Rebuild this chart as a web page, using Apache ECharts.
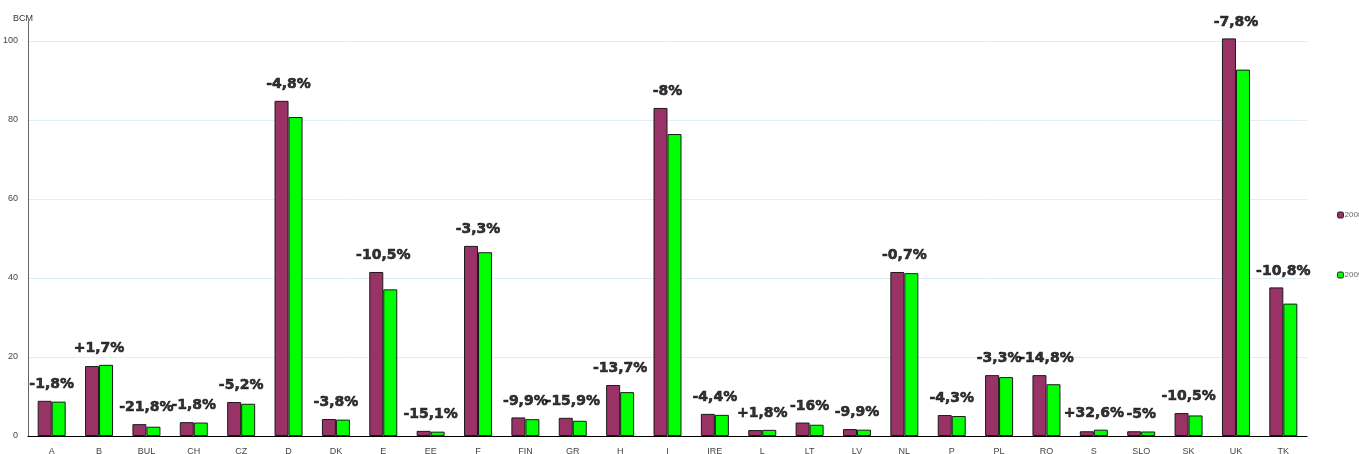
<!DOCTYPE html>
<html>
<head>
<meta charset="utf-8">
<script src="https://cdn.jsdelivr.net/npm/echarts@6/dist/echarts.min.js"></script>
<style>
html,body{margin:0;padding:0;background:#fff;}
#chart{width:1359px;height:454px;}
</style>
</head>
<body>
<div id="chart"></div>
<script>
const categories = ['A','B','BUL','CH','CZ','D','DK','E','EE','F','FIN','GR','H','I','IRE','L','LT','LV','NL','P','PL','RO','S','SLO','SK','UK','TK'];
const values2008 = [8.9,17.7,3.0,3.5,8.6,84.8,4.3,41.5,1.3,48.1,4.7,4.6,12.9,83.0,5.6,1.5,3.4,1.75,41.5,5.3,15.4,15.4,1.2,1.2,5.8,100.6,37.6];
const values2009 = [8.7,18.0,2.35,3.4,8.15,80.7,4.15,37.1,1.1,46.5,4.25,3.85,11.1,76.4,5.35,1.55,2.85,1.6,41.2,5.05,14.9,13.1,1.6,1.14,5.2,92.7,33.5];
const changeLabels = ['-1,8%','+1,7%','-21,8%','-1,8%','-5,2%','-4,8%','-3,8%','-10,5%','-15,1%','-3,3%','-9,9%','-15,9%','-13,7%','-8%','-4,4%','+1,8%','-16%','-9,9%','-0,7%','-4,3%','-3,3%','-14,8%','+32,6%','-5%','-10,5%','-7,8%','-10,8%'];
const yTicks = [0,20,40,60,80,100];

const labelAnchor = categories.map((c,i) => Math.max(values2008[i], values2009[i]));

const chart = echarts.init(document.getElementById('chart'));
chart.setOption({
  animation: false,
  grid: {left: 28, right: 52, top: 21, bottom: 18, containLabel: false, outerBoundsMode: 'none'},
  legend: {
    orient: 'vertical',
    left: 1332,
    top: 206,
    itemGap: 52,
    itemWidth: 6,
    itemHeight: 6,
    data: [
      {name: '2008', itemStyle: {borderColor: '#222', borderWidth: 1}},
      {name: '2009', itemStyle: {borderColor: '#222', borderWidth: 1}}
    ],
    textStyle: {fontSize: 8, color: '#666', fontFamily: 'Liberation Sans', padding: [0,0,0,-4]}
  },
  xAxis: {
    type: 'category',
    data: categories,
    axisLine: {lineStyle: {color: '#000', width: 1}},
    axisTick: {show: false},
    axisLabel: {fontSize: 9, color: '#444', fontFamily: 'Liberation Sans', margin: 11}
  },
  yAxis: {
    type: 'value',
    min: 0, max: 105, interval: 20,
    name: 'BCM',
    nameLocation: 'end',
    nameGap: -2,
    nameTextStyle: {fontSize: 9, color: '#333', fontFamily: 'Liberation Sans', padding: [0, 10, 0, 0]},
    axisLine: {show: true, lineStyle: {color: '#666', width: 1}},
    axisTick: {show: false},
    axisLabel: {
      fontSize: 9, color: '#444', fontFamily: 'Liberation Sans', margin: 10,
      formatter: v => yTicks.indexOf(v) >= 0 ? String(v) : ''
    },
    splitLine: {lineStyle: {color: ['#dfeef6','#dfeef6','#dfeef6','#dfeef6','#dfeef6','#dfeef6','rgba(0,0,0,0)'], width: 1}}
  },
  series: [
    {
      name: '2008', type: 'bar', data: values2008,
      barWidth: 14, barGap: '0%',
      itemStyle: {color: '#993366', borderColor: '#1a1a1a', borderWidth: 1}
    },
    {
      name: '2009', type: 'bar', data: values2009,
      barWidth: 14, barGap: '0%',
      itemStyle: {color: '#00ff00', borderColor: '#1a1a1a', borderWidth: 1}
    },
    {
      name: 'change', type: 'scatter', data: labelAnchor,
      symbolSize: 1,
      itemStyle: {color: 'rgba(0,0,0,0)'},
      silent: true,
      z: 10,
      label: {
        show: true, position: 'top', distance: 9,
        formatter: p => changeLabels[p.dataIndex],
        fontSize: 14, fontWeight: 'bold', color: '#000',
        textBorderWidth: 0.6, textBorderColor: '#000',
        fontFamily: 'DejaVu Sans'
      }
    }
  ]
});
</script>
</body>
</html>
